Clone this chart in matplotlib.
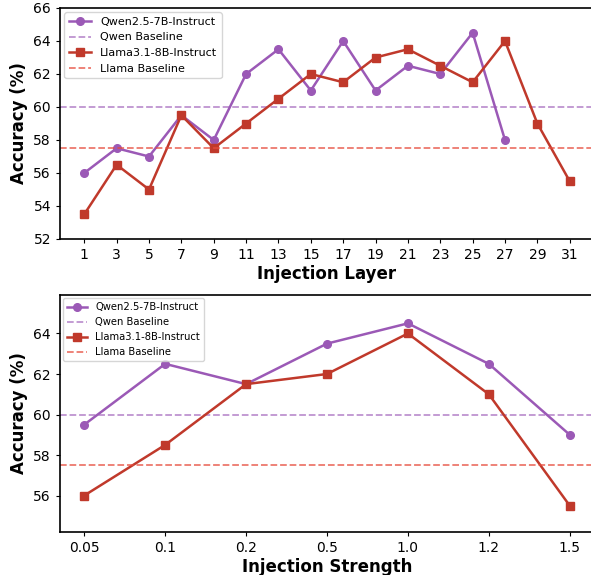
import matplotlib
matplotlib.use("Agg")
import matplotlib.pyplot as plt

QWEN_COLOR = "#9b59b6"
LLAMA_COLOR = "#c0392b"

# top panel: injection layer
qwen_layers = [1, 3, 5, 7, 9, 11, 13, 15, 17, 19, 21, 23, 25, 27]
qwen_layer_acc = [56, 57.5, 57, 59.5, 58, 62, 63.5, 61, 64, 61, 62.5, 62, 64.5, 58]
llama_layers = [1, 3, 5, 7, 9, 11, 13, 15, 17, 19, 21, 23, 25, 27, 29, 31]
llama_layer_acc = [53.5, 56.5, 55, 59.5, 57.5, 59, 60.5, 62, 61.5, 63, 63.5, 62.5, 61.5, 64, 59, 55.5]

# bottom panel: injection strength
strength_labels = ["0.05", "0.1", "0.2", "0.5", "1.0", "1.2", "1.5"]
qwen_strength_acc = [59.5, 62.5, 61.5, 63.5, 64.5, 62.5, 59]
llama_strength_acc = [56, 58.5, 61.5, 62, 64, 61, 55.5]

qwen_baseline = 60
llama_baseline = 57.5

W, H = 591, 575
fig = plt.figure(figsize=(W / 100, H / 100), dpi=100)


def px_axes(left, top, right, bottom):
    return fig.add_axes([left / W, 1 - bottom / H, (right - left) / W, (bottom - top) / H])


def draw_panel(ax, x_qwen, y_qwen, x_llama, y_llama):
    ax.plot(x_qwen, y_qwen, "-o", color=QWEN_COLOR, lw=1.8, ms=5.5, label="Qwen2.5-7B-Instruct")
    ax.axhline(qwen_baseline, color=QWEN_COLOR, ls="--", lw=1.3, alpha=0.65, label="Qwen Baseline")
    ax.plot(x_llama, y_llama, "-s", color=LLAMA_COLOR, lw=1.8, ms=5.5, label="Llama3.1-8B-Instruct")
    ax.axhline(llama_baseline, color="#e74c3c", ls="--", lw=1.3, alpha=0.75, label="Llama Baseline")
    ax.set_ylabel("Accuracy (%)", fontsize=12, fontweight="bold")
    ax.tick_params(labelsize=10, length=3)
    for s in ax.spines.values():
        s.set_linewidth(1.2)


ax1 = px_axes(60, 8, 594, 239)
draw_panel(ax1, qwen_layers, qwen_layer_acc, llama_layers, llama_layer_acc)
ax1.set_xticks(llama_layers)
ax1.set_xlim(-0.5, 32.5)
ax1.set_ylim(52, 66)
ax1.set_xlabel("Injection Layer", fontsize=12, fontweight="bold", labelpad=2)
ax1.legend(loc="upper left", fontsize=8, borderaxespad=0.4)

ax2 = px_axes(60, 295, 594, 532)
xs = list(range(len(strength_labels)))
draw_panel(ax2, xs, qwen_strength_acc, xs, llama_strength_acc)
ax2.set_xticks(xs)
ax2.set_xticklabels(strength_labels)
ax2.set_xlim(-0.3, 6.3)
ax2.set_ylim(54.2, 65.9)
ax2.set_yticks([56, 58, 60, 62, 64])
ax2.set_xlabel("Injection Strength", fontsize=12, fontweight="bold", labelpad=2)
ax2.legend(loc="upper left", fontsize=7.2, borderaxespad=0.3)

fig.savefig("out.png", dpi=100)
